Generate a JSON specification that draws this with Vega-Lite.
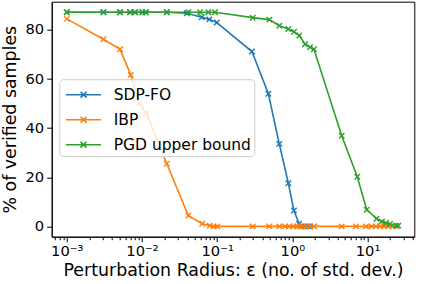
{
  "$schema": "https://vega.github.io/schema/vega-lite/v6.json",
  "width": 362.6,
  "height": 235,
  "autosize": {"type": "none"},
  "padding": {"left": 51.7, "top": 1.7, "right": 10, "bottom": 47},
  "config": {
    "font": "DejaVu Sans",
    "view": {"stroke": "black", "strokeWidth": 1},
    "axis": {"domainColor": "black", "tickColor": "black", "labelColor": "black", "titleColor": "black", "grid": false, "titleFontWeight": "normal"}
  },
  "data": {"values": [
    {"s": "SDP-FO", "eps": 0.001, "v": 87.2},
    {"s": "SDP-FO", "eps": 0.00307, "v": 87.2},
    {"s": "SDP-FO", "eps": 0.00512, "v": 87.2},
    {"s": "SDP-FO", "eps": 0.00695, "v": 87.2},
    {"s": "SDP-FO", "eps": 0.0081, "v": 87.2},
    {"s": "SDP-FO", "eps": 0.0101, "v": 87.2},
    {"s": "SDP-FO", "eps": 0.0112, "v": 87.2},
    {"s": "SDP-FO", "eps": 0.0214, "v": 87.2},
    {"s": "SDP-FO", "eps": 0.0394, "v": 86.8},
    {"s": "SDP-FO", "eps": 0.0624, "v": 85.2},
    {"s": "SDP-FO", "eps": 0.0787, "v": 84.3},
    {"s": "SDP-FO", "eps": 0.099, "v": 83.0},
    {"s": "SDP-FO", "eps": 0.29, "v": 71.2},
    {"s": "SDP-FO", "eps": 0.48, "v": 54.0},
    {"s": "SDP-FO", "eps": 0.67, "v": 33.6},
    {"s": "SDP-FO", "eps": 0.885, "v": 17.6},
    {"s": "SDP-FO", "eps": 1.05, "v": 6.5},
    {"s": "SDP-FO", "eps": 1.23, "v": 1.1},
    {"s": "SDP-FO", "eps": 1.33, "v": 0},
    {"s": "SDP-FO", "eps": 1.48, "v": 0},
    {"s": "SDP-FO", "eps": 1.62, "v": 0},
    {"s": "SDP-FO", "eps": 1.72, "v": 0},
    {"s": "IBP", "eps": 0.001, "v": 84.5},
    {"s": "IBP", "eps": 0.00307, "v": 76.2},
    {"s": "IBP", "eps": 0.00512, "v": 72.1},
    {"s": "IBP", "eps": 0.0071, "v": 61.7},
    {"s": "IBP", "eps": 0.0092, "v": 50.2},
    {"s": "IBP", "eps": 0.0114, "v": 46.1},
    {"s": "IBP", "eps": 0.0214, "v": 25.5},
    {"s": "IBP", "eps": 0.0414, "v": 4.4},
    {"s": "IBP", "eps": 0.0633, "v": 1.1},
    {"s": "IBP", "eps": 0.0795, "v": 0.3},
    {"s": "IBP", "eps": 0.0898, "v": 0},
    {"s": "IBP", "eps": 0.1, "v": 0},
    {"s": "IBP", "eps": 0.297, "v": 0},
    {"s": "IBP", "eps": 0.494, "v": 0},
    {"s": "IBP", "eps": 0.671, "v": 0},
    {"s": "IBP", "eps": 0.8, "v": 0},
    {"s": "IBP", "eps": 0.91, "v": 0},
    {"s": "IBP", "eps": 1.03, "v": 0},
    {"s": "IBP", "eps": 1.16, "v": 0},
    {"s": "IBP", "eps": 1.26, "v": 0},
    {"s": "IBP", "eps": 1.4, "v": 0},
    {"s": "IBP", "eps": 1.55, "v": 0},
    {"s": "IBP", "eps": 1.72, "v": 0},
    {"s": "IBP", "eps": 1.94, "v": 0},
    {"s": "IBP", "eps": 4.54, "v": 0},
    {"s": "IBP", "eps": 7.03, "v": 0},
    {"s": "IBP", "eps": 9.55, "v": 0},
    {"s": "IBP", "eps": 11.4, "v": 0},
    {"s": "IBP", "eps": 13.0, "v": 0},
    {"s": "IBP", "eps": 14.7, "v": 0},
    {"s": "IBP", "eps": 16.6, "v": 0},
    {"s": "IBP", "eps": 18.9, "v": 0},
    {"s": "IBP", "eps": 21.6, "v": 0},
    {"s": "IBP", "eps": 24.5, "v": 0},
    {"s": "PGD upper bound", "eps": 0.001, "v": 87.2},
    {"s": "PGD upper bound", "eps": 0.00307, "v": 87.2},
    {"s": "PGD upper bound", "eps": 0.00512, "v": 87.2},
    {"s": "PGD upper bound", "eps": 0.00695, "v": 87.2},
    {"s": "PGD upper bound", "eps": 0.0081, "v": 87.2},
    {"s": "PGD upper bound", "eps": 0.0101, "v": 87.2},
    {"s": "PGD upper bound", "eps": 0.0112, "v": 87.2},
    {"s": "PGD upper bound", "eps": 0.0214, "v": 87.2},
    {"s": "PGD upper bound", "eps": 0.0414, "v": 87.2},
    {"s": "PGD upper bound", "eps": 0.0593, "v": 87.2},
    {"s": "PGD upper bound", "eps": 0.0764, "v": 87.2},
    {"s": "PGD upper bound", "eps": 0.0938, "v": 87.2},
    {"s": "PGD upper bound", "eps": 0.297, "v": 85.0},
    {"s": "PGD upper bound", "eps": 0.494, "v": 84.2},
    {"s": "PGD upper bound", "eps": 0.671, "v": 81.7},
    {"s": "PGD upper bound", "eps": 0.885, "v": 80.4},
    {"s": "PGD upper bound", "eps": 1.054, "v": 79.3},
    {"s": "PGD upper bound", "eps": 1.239, "v": 77.7},
    {"s": "PGD upper bound", "eps": 1.476, "v": 74.2},
    {"s": "PGD upper bound", "eps": 1.72, "v": 73.0},
    {"s": "PGD upper bound", "eps": 1.94, "v": 72.1},
    {"s": "PGD upper bound", "eps": 4.54, "v": 36.9},
    {"s": "PGD upper bound", "eps": 7.31, "v": 20.2},
    {"s": "PGD upper bound", "eps": 9.76, "v": 6.8},
    {"s": "PGD upper bound", "eps": 13.2, "v": 3.1},
    {"s": "PGD upper bound", "eps": 15.5, "v": 2.0},
    {"s": "PGD upper bound", "eps": 17.6, "v": 1.4},
    {"s": "PGD upper bound", "eps": 19.9, "v": 1.0},
    {"s": "PGD upper bound", "eps": 23.9, "v": 0.3},
    {"s": "PGD upper bound", "eps": 25.7, "v": 0.3}
  ]},
  "mark": {
    "type": "line",
    "strokeWidth": 1.6,
    "point": {"shape": "M-1,-1L1,1M-1,1L1,-1", "filled": false, "size": 30, "strokeWidth": 1.4}
  },
  "encoding": {
    "x": {
      "field": "eps", "type": "quantitative",
      "scale": {"type": "log", "domain": [0.00063, 41.9], "nice": false},
      "axis": {
        "title": "Perturbation Radius: ε (no. of std. dev.)",
        "titleFontSize": 17.4, "titlePadding": 3,
        "labelFontSize": 14.7, "labelPadding": 2, "labelOverlap": false,
        "values": [0.0007, 0.0008, 0.0009, 0.001, 0.002, 0.003, 0.004, 0.005, 0.006, 0.007, 0.008, 0.009, 0.01, 0.02, 0.03, 0.04, 0.05, 0.06, 0.07, 0.08, 0.09, 0.1, 0.2, 0.3, 0.4, 0.5, 0.6, 0.7, 0.8, 0.9, 1, 2, 3, 4, 5, 6, 7, 8, 9, 10, 20, 30, 40],
        "labelExpr": "datum.value == 0.001 ? '10⁻³' : datum.value == 0.01 ? '10⁻²' : datum.value == 0.1 ? '10⁻¹' : datum.value == 1 ? '10⁰' : datum.value == 10 ? '10¹' : ''",
        "tickSize": {"condition": {"test": "indexof([0.001, 0.01, 0.1, 1, 10], datum.value) >= 0", "value": 5}, "value": 3},
        "tickWidth": 1
      }
    },
    "y": {
      "field": "v", "type": "quantitative",
      "scale": {"domain": [-4.2, 91.5], "nice": false, "zero": false},
      "axis": {
        "title": "% of verified samples",
        "titleFontSize": 17.4, "titlePadding": 6,
        "labelFontSize": 14.7, "labelPadding": 3,
        "values": [0, 20, 40, 60, 80], "tickSize": 5
      }
    },
    "color": {
      "field": "s", "type": "nominal", "sort": null,
      "scale": {"domain": ["SDP-FO", "IBP", "PGD upper bound"], "range": ["#1f77b4", "#ff7f0e", "#2ca02c"]},
      "legend": {
        "title": null, "orient": "none", "legendX": 7.6, "legendY": 77.5,
        "symbolType": "M-0.765,0L2.28,0M0.5,-0.26L1.02,0.26M0.5,0.26L1.02,-0.26",
        "symbolSize": 529, "symbolStrokeWidth": 1.6, "symbolFillColor": "transparent",
        "labelFontSize": 15.5, "labelColor": "black", "labelOffset": 26.4,
        "rowPadding": 4, "padding": 3,
        "fillColor": "rgba(255,255,255,0.8)", "strokeColor": "#cccccc", "cornerRadius": 4
      }
    }
  }
}
